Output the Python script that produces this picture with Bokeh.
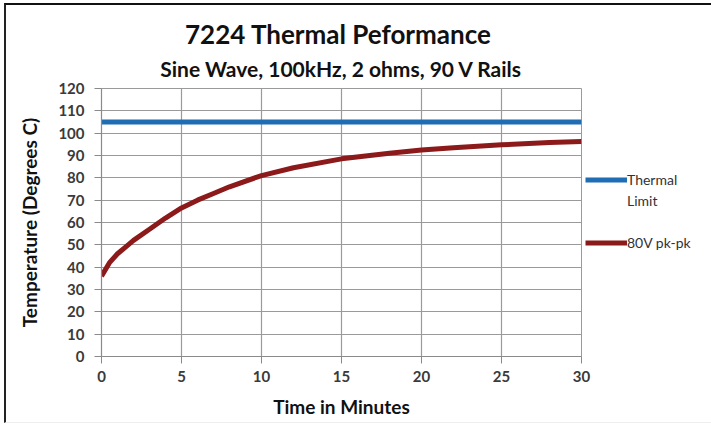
from bokeh.plotting import figure
from bokeh.models import Legend, LegendItem, Title, Range1d, FixedTicker
from bokeh.embed import file_html
from bokeh.resources import INLINE

# Data
time_min = [0, 0.5, 1, 1.5, 2, 3, 4, 5, 6, 7, 8, 10, 12, 15, 18, 20, 22, 25, 28, 30]
temp_80v = [36, 42, 46, 49, 52, 57, 62, 66.5, 70, 73, 76, 81, 84.5, 88.5, 91, 92.5, 93.5, 94.8, 95.8, 96.3]
limit_x = [0, 30]
limit_y = [105, 105]
x_ticks = [0, 5, 10, 15, 20, 25, 30]
y_ticks = list(range(0, 121, 10))

FONT = "Lato"

p = figure(frame_width=480, frame_height=268, output_backend="svg", toolbar_location=None,
           x_range=Range1d(0, 30), y_range=Range1d(0, 120),
           min_border_left=95, min_border_right=122, min_border_top=83, min_border_bottom=66)

p.add_layout(Title(text="Sine Wave, 100kHz, 2 ohms, 90 V Rails", align="center",
                   text_font=FONT, text_font_size="21px", text_font_style="bold",
                   text_color="#111111", vertical_align="top", standoff=12), "above")
p.add_layout(Title(text="7224  Thermal Peformance", align="center",
                   text_font=FONT, text_font_size="26px", text_font_style="bold",
                   text_color="#111111", vertical_align="bottom", standoff=0), "above")

r1 = p.line(limit_x, limit_y, line_color="#1f6db3", line_width=5)
r2 = p.line(time_min, temp_80v, line_color="#8c1a1a", line_width=5)

legend = Legend(items=[LegendItem(label="Thermal", renderers=[r1]),
                       LegendItem(label="Limit", renderers=[]),
                       LegendItem(label=" ", renderers=[]),
                       LegendItem(label="80V pk-pk", renderers=[r2])],
                location=(4, 104), glyph_width=42, glyph_height=19, label_standoff=0,
                label_text_font=FONT, label_text_font_size="14px", label_text_color="#333333",
                label_height=19,
                border_line_color=None, background_fill_alpha=0, spacing=2, padding=0, margin=0)
p.add_layout(legend, "right")

p.xaxis.ticker = FixedTicker(ticks=x_ticks)
p.yaxis.ticker = FixedTicker(ticks=y_ticks)
p.xgrid.ticker = FixedTicker(ticks=x_ticks)
p.ygrid.ticker = FixedTicker(ticks=y_ticks)
for g in (p.xgrid, p.ygrid):
    g.grid_line_color = "#9a9a9a"
    g.grid_line_width = 1.2

p.xaxis.axis_label = "Time in Minutes"
p.yaxis.axis_label = "Temperature (Degrees C)"
for ax in (p.xaxis, p.yaxis):
    ax.axis_label_text_font = FONT
    ax.axis_label_text_font_size = "19px"
    ax.axis_label_text_font_style = "bold"
    ax.axis_label_text_color = "#111111"
    ax.major_label_text_font = FONT
    ax.major_label_text_font_size = "15px"
    ax.major_label_text_font_style = "bold"
    ax.major_label_text_color = "#3a3a3a"
    ax.axis_line_color = "#8a8a8a"
    ax.axis_line_width = 1.2
    ax.major_tick_line_color = "#8a8a8a"
    ax.major_tick_out = 7
    ax.major_tick_in = 0
    ax.minor_tick_line_color = None
p.xaxis.major_label_standoff = 7
p.yaxis.major_label_standoff = 10
p.xaxis.axis_label_standoff = 10
p.yaxis.axis_label_standoff = 14

p.outline_line_color = "#9a9a9a"
p.background_fill_color = "white"
p.border_fill_color = "white"
p.styles = {"margin-left": "4px", "margin-top": "3px",
            "border-top": "2px solid #111111", "border-left": "2px solid #222222",
            "border-right": "1px solid #eeeeee", "border-bottom": "1px solid #eeeeee"}

open("out.html", "w").write(file_html(p, INLINE))
